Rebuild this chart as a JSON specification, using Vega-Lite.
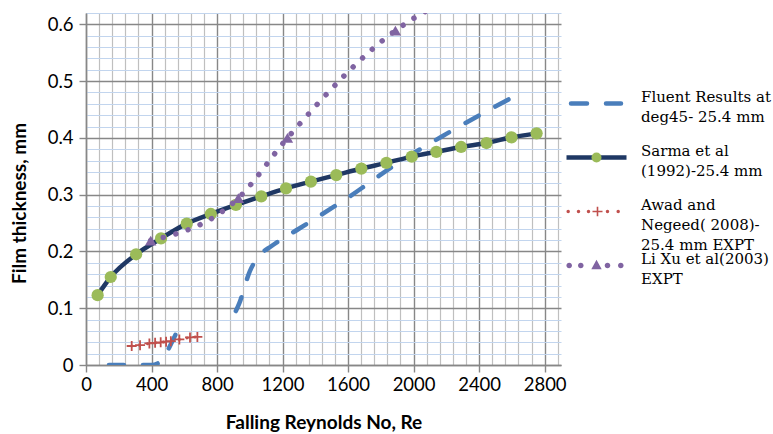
{
  "$schema": "https://vega.github.io/schema/vega-lite/v6.json",
  "width": 475,
  "height": 352,
  "autosize": {"type": "none"},
  "padding": {"left": 86, "top": 13, "right": 212, "bottom": 69},
  "background": "#ffffff",
  "config": {"view": {"stroke": null}, "font": "Lato"},
  "data": {
    "values": [
      {"series": "Fluent Results at deg45- 25.4 mm", "re": 140, "t": 0},
      {"series": "Fluent Results at deg45- 25.4 mm", "re": 400, "t": 0},
      {"series": "Fluent Results at deg45- 25.4 mm", "re": 450, "t": 0.005},
      {"series": "Fluent Results at deg45- 25.4 mm", "re": 510, "t": 0.032},
      {"series": "Fluent Results at deg45- 25.4 mm", "re": 560, "t": 0.062},
      {"series": "Fluent Results at deg45- 25.4 mm", "re": 740, "t": null},
      {"series": "Fluent Results at deg45- 25.4 mm", "re": 915, "t": 0.095},
      {"series": "Fluent Results at deg45- 25.4 mm", "re": 935, "t": 0.108},
      {"series": "Fluent Results at deg45- 25.4 mm", "re": 1000, "t": 0.165},
      {"series": "Fluent Results at deg45- 25.4 mm", "re": 1050, "t": 0.19},
      {"series": "Fluent Results at deg45- 25.4 mm", "re": 1135, "t": 0.21},
      {"series": "Fluent Results at deg45- 25.4 mm", "re": 1300, "t": 0.24},
      {"series": "Fluent Results at deg45- 25.4 mm", "re": 1600, "t": 0.295},
      {"series": "Fluent Results at deg45- 25.4 mm", "re": 1900, "t": 0.355},
      {"series": "Fluent Results at deg45- 25.4 mm", "re": 2200, "t": 0.407},
      {"series": "Fluent Results at deg45- 25.4 mm", "re": 2600, "t": 0.471},

      {"series": "Sarma et al (1992)-25.4 mm", "re": 71, "t": 0.123},
      {"series": "Sarma et al (1992)-25.4 mm", "re": 151, "t": 0.155},
      {"series": "Sarma et al (1992)-25.4 mm", "re": 306, "t": 0.195},
      {"series": "Sarma et al (1992)-25.4 mm", "re": 458, "t": 0.223},
      {"series": "Sarma et al (1992)-25.4 mm", "re": 615, "t": 0.249},
      {"series": "Sarma et al (1992)-25.4 mm", "re": 762, "t": 0.266},
      {"series": "Sarma et al (1992)-25.4 mm", "re": 915, "t": 0.282},
      {"series": "Sarma et al (1992)-25.4 mm", "re": 1070, "t": 0.297},
      {"series": "Sarma et al (1992)-25.4 mm", "re": 1221, "t": 0.311},
      {"series": "Sarma et al (1992)-25.4 mm", "re": 1373, "t": 0.323},
      {"series": "Sarma et al (1992)-25.4 mm", "re": 1528, "t": 0.3345},
      {"series": "Sarma et al (1992)-25.4 mm", "re": 1681, "t": 0.346},
      {"series": "Sarma et al (1992)-25.4 mm", "re": 1834, "t": 0.356},
      {"series": "Sarma et al (1992)-25.4 mm", "re": 1989, "t": 0.367},
      {"series": "Sarma et al (1992)-25.4 mm", "re": 2139, "t": 0.3755},
      {"series": "Sarma et al (1992)-25.4 mm", "re": 2290, "t": 0.384},
      {"series": "Sarma et al (1992)-25.4 mm", "re": 2445, "t": 0.391},
      {"series": "Sarma et al (1992)-25.4 mm", "re": 2598, "t": 0.401},
      {"series": "Sarma et al (1992)-25.4 mm", "re": 2751, "t": 0.408},

      {"series": "Awad and Negeed( 2008)-25.4 mm EXPT", "re": 279, "t": 0.0335},
      {"series": "Awad and Negeed( 2008)-25.4 mm EXPT", "re": 330, "t": 0.035},
      {"series": "Awad and Negeed( 2008)-25.4 mm EXPT", "re": 387, "t": 0.038},
      {"series": "Awad and Negeed( 2008)-25.4 mm EXPT", "re": 422, "t": 0.039},
      {"series": "Awad and Negeed( 2008)-25.4 mm EXPT", "re": 456, "t": 0.04},
      {"series": "Awad and Negeed( 2008)-25.4 mm EXPT", "re": 489, "t": 0.041},
      {"series": "Awad and Negeed( 2008)-25.4 mm EXPT", "re": 518, "t": 0.042},
      {"series": "Awad and Negeed( 2008)-25.4 mm EXPT", "re": 570, "t": 0.045},
      {"series": "Awad and Negeed( 2008)-25.4 mm EXPT", "re": 635, "t": 0.0485},
      {"series": "Awad and Negeed( 2008)-25.4 mm EXPT", "re": 680, "t": 0.0495},

      {"series": "Li Xu et al(2003) EXPT", "re": 395, "t": 0.219},
      {"series": "Li Xu et al(2003) EXPT", "re": 930, "t": 0.294},
      {"series": "Li Xu et al(2003) EXPT", "re": 1230, "t": 0.4},
      {"series": "Li Xu et al(2003) EXPT", "re": 1889, "t": 0.589},
      {"series": "Li Xu et al(2003) EXPT", "re": 2220, "t": 0.646}
    ]
  },
  "encoding": {
    "x": {
      "field": "re",
      "type": "quantitative",
      "scale": {"domain": [0, 2900], "nice": false},
      "axis": {
        "title": "Falling Reynolds No, Re",
        "values": [0, 80, 160, 240, 320, 400, 480, 560, 640, 720, 800, 880, 960, 1040, 1120, 1200, 1280, 1360, 1440, 1520, 1600, 1680, 1760, 1840, 1920, 2000, 2080, 2160, 2240, 2320, 2400, 2480, 2560, 2640, 2720, 2800, 2880],
        "format": "d",
        "labelExpr": "datum.value % 400 === 0 ? datum.label : ''",
        "labelOverlap": false,
        "labelFlush": false,
        "labelFont": "Lato",
        "labelFontSize": 18.5,
        "labelColor": "#000000",
        "labelPadding": 3,
        "grid": true,
        "gridColor": {"condition": {"test": "datum.value % 400 === 0", "value": "#878787"}, "value": "#BFBFBF"},
        "gridWidth": {"condition": {"test": "datum.value % 400 === 0", "value": 1.4}, "value": 1.2},
        "tickOpacity": {"condition": {"test": "datum.value % 400 === 0", "value": 1}, "value": 0},
        "tickSize": 7,
        "tickColor": "#878787",
        "tickWidth": 1.4,
        "domainColor": "#878787",
        "domainWidth": 1.5,
        "titleFont": "Lato",
        "titleFontSize": 19,
        "titleFontWeight": "bold",
        "titleColor": "#000000",
        "titlePadding": 20
      }
    },
    "y": {
      "field": "t",
      "type": "quantitative",
      "scale": {"domain": [0, 0.62], "nice": false},
      "axis": {
        "title": "Film thickness, mm",
        "values": [0, 0.02, 0.04, 0.06, 0.08, 0.1, 0.12, 0.14, 0.16, 0.18, 0.2, 0.22, 0.24, 0.26, 0.28, 0.3, 0.32, 0.34, 0.36, 0.38, 0.4, 0.42, 0.44, 0.46, 0.48, 0.5, 0.52, 0.54, 0.56, 0.58, 0.6, 0.62],
        "labelExpr": "abs(datum.value * 10 - round(datum.value * 10)) < 0.001 ? format(datum.value, '.1~f') : ''",
        "labelOverlap": false,
        "labelFlush": false,
        "labelFont": "Lato",
        "labelFontSize": 18.5,
        "labelColor": "#000000",
        "labelPadding": 6,
        "grid": true,
        "gridColor": {"condition": {"test": "abs(datum.value * 10 - round(datum.value * 10)) < 0.001", "value": "#878787"}, "value": "#C2D5EE"},
        "gridWidth": {"condition": {"test": "abs(datum.value * 10 - round(datum.value * 10)) < 0.001", "value": 1.4}, "value": 1.2},
        "tickOpacity": {"condition": {"test": "abs(datum.value * 10 - round(datum.value * 10)) < 0.001", "value": 1}, "value": 0},
        "tickSize": 7,
        "tickColor": "#878787",
        "tickWidth": 1.4,
        "domainColor": "#878787",
        "domainWidth": 1.5,
        "titleFont": "Lato",
        "titleFontSize": 19,
        "titleFontWeight": "bold",
        "titleColor": "#000000",
        "titlePadding": 18,
        "titleY": 190
      }
    }
  },
  "layer": [
    {
      "transform": [{"filter": "datum.series === 'Fluent Results at deg45- 25.4 mm'"}],
      "mark": {"type": "line", "color": "#4A7EBB", "strokeWidth": 4.5, "strokeDash": [15, 19], "strokeCap": "round", "interpolate": "monotone", "clip": true}
    },
    {
      "transform": [{"filter": "datum.series === 'Sarma et al (1992)-25.4 mm'"}],
      "mark": {"type": "line", "color": "#1F3864", "strokeWidth": 4.5, "interpolate": "monotone", "clip": true}
    },
    {
      "transform": [{"filter": "datum.series === 'Sarma et al (1992)-25.4 mm'"}],
      "mark": {"type": "point", "shape": "circle", "filled": true, "color": "#9BBB59", "size": 150, "opacity": 1, "clip": true}
    },
    {
      "transform": [{"filter": "datum.series === 'Awad and Negeed( 2008)-25.4 mm EXPT'"}],
      "mark": {"type": "line", "color": "#C0504D", "strokeWidth": 3, "strokeDash": [0.01, 8], "strokeCap": "round", "interpolate": "monotone", "clip": true}
    },
    {
      "transform": [{"filter": "datum.series === 'Awad and Negeed( 2008)-25.4 mm EXPT'"}],
      "mark": {"type": "point", "shape": "M-1,0L1,0M0,-1L0,1", "filled": false, "stroke": "#C0504D", "strokeWidth": 1.8, "size": 100, "opacity": 1, "clip": true}
    },
    {
      "transform": [{"filter": "datum.series === 'Li Xu et al(2003) EXPT'"}],
      "mark": {"type": "line", "color": "#8064A2", "strokeWidth": 5.5, "strokeDash": [0.01, 13], "strokeCap": "round", "interpolate": "monotone", "clip": true}
    },
    {
      "transform": [{"filter": "datum.series === 'Li Xu et al(2003) EXPT'"}],
      "mark": {"type": "point", "shape": "triangle-up", "filled": true, "color": "#8064A2", "size": 130, "opacity": 1, "clip": true}
    },
    {
      "mark": {"type": "point", "opacity": 0, "clip": true},
      "encoding": {
        "color": {
          "field": "series",
          "type": "nominal",
          "scale": {"domain": ["Fluent Results at deg45- 25.4 mm", "Sarma et al (1992)-25.4 mm", "Awad and Negeed( 2008)-25.4 mm EXPT", "Li Xu et al(2003) EXPT"], "range": ["#4A7EBB", "#9BBB59", "#C0504D", "#8064A2"]},
          "legend": {
            "title": null,
            "orient": "none",
            "legendX": 503,
            "legendY": 83,
            "padding": 0,
            "gridAlign": "all",
            "rowPadding": -10,
            "symbolSize": 400,
            "labelOffset": 37,
            "labelFont": "DejaVu Serif",
            "labelFontSize": 15,
            "labelColor": "#000000",
            "labelLimit": 400,
            "labelBaseline": "top",
            "labelExpr": "datum.label === 'Fluent Results at deg45- 25.4 mm' ? ['Fluent Results at', 'deg45- 25.4 mm'] : datum.label === 'Sarma et al (1992)-25.4 mm' ? ['Sarma et al', '(1992)-25.4 mm'] : datum.label === 'Awad and Negeed( 2008)-25.4 mm EXPT' ? ['Awad and', 'Negeed( 2008)-', '25.4 mm EXPT'] : ['Li Xu et al(2003)', 'EXPT']",
            "encoding": {
              "labels": {
                "lineHeight": {"value": 20},
                "dy": {"value": -14}
              },
              "symbols": {
                "size": {"value": 400},
                "opacity": {"value": 1},
                "strokeCap": {"value": "round"},
                "shape": {"value": {"signal": "datum.value === 'Fluent Results at deg45- 25.4 mm' ? 'M-2.55,0L-0.95,0M0.95,0L2.45,0' : datum.value === 'Sarma et al (1992)-25.4 mm' ? 'M0,0L0,-0.22L3,-0.22L3,0.22L-3,0.22L-3,-0.22L0,-0.22Z' : datum.value === 'Awad and Negeed( 2008)-25.4 mm EXPT' ? 'M-3,0A0.17,0.17 0 1 0 -2.66,0A0.17,0.17 0 1 0 -3,0ZM-1.97,0A0.17,0.17 0 1 0 -1.63,0A0.17,0.17 0 1 0 -1.97,0ZM-0.97,0A0.17,0.17 0 1 0 -0.63,0A0.17,0.17 0 1 0 -0.97,0ZM0.93,0A0.17,0.17 0 1 0 1.27,0A0.17,0.17 0 1 0 0.93,0ZM2,0A0.17,0.17 0 1 0 2.34,0A0.17,0.17 0 1 0 2,0ZM-0.4,-0.08L0.6,-0.08L0.6,0.08L-0.4,0.08ZM0.02,-0.48L0.18,-0.48L0.18,0.48L0.02,0.48Z' : 'M-3.01,0A0.28,0.28 0 1 0 -2.45,0A0.28,0.28 0 1 0 -3.01,0ZM-1.85,0A0.28,0.28 0 1 0 -1.29,0A0.28,0.28 0 1 0 -1.85,0ZM0.82,0A0.28,0.28 0 1 0 1.38,0A0.28,0.28 0 1 0 0.82,0ZM2.15,0A0.28,0.28 0 1 0 2.71,0A0.28,0.28 0 1 0 2.15,0ZM0,-0.58L0.52,0.38L-0.52,0.38Z'"}},
                "fill": {"value": {"signal": "datum.value === 'Fluent Results at deg45- 25.4 mm' ? 'transparent' : datum.value === 'Sarma et al (1992)-25.4 mm' ? '#1F3864' : datum.value === 'Awad and Negeed( 2008)-25.4 mm EXPT' ? '#C0504D' : '#8064A2'"}},
                "stroke": {"value": {"signal": "datum.value === 'Fluent Results at deg45- 25.4 mm' ? '#4A7EBB' : datum.value === 'Sarma et al (1992)-25.4 mm' ? '#9BBB59' : 'transparent'"}},
                "strokeWidth": {"value": {"signal": "datum.value === 'Fluent Results at deg45- 25.4 mm' ? 4.5 : datum.value === 'Sarma et al (1992)-25.4 mm' ? 10 : 0"}},
                "strokeDash": {"value": {"signal": "datum.value === 'Sarma et al (1992)-25.4 mm' ? [0.01, 10000] : [1000, 0]"}}
              }
            }
          }
        }
      }
    }
  ]
}
